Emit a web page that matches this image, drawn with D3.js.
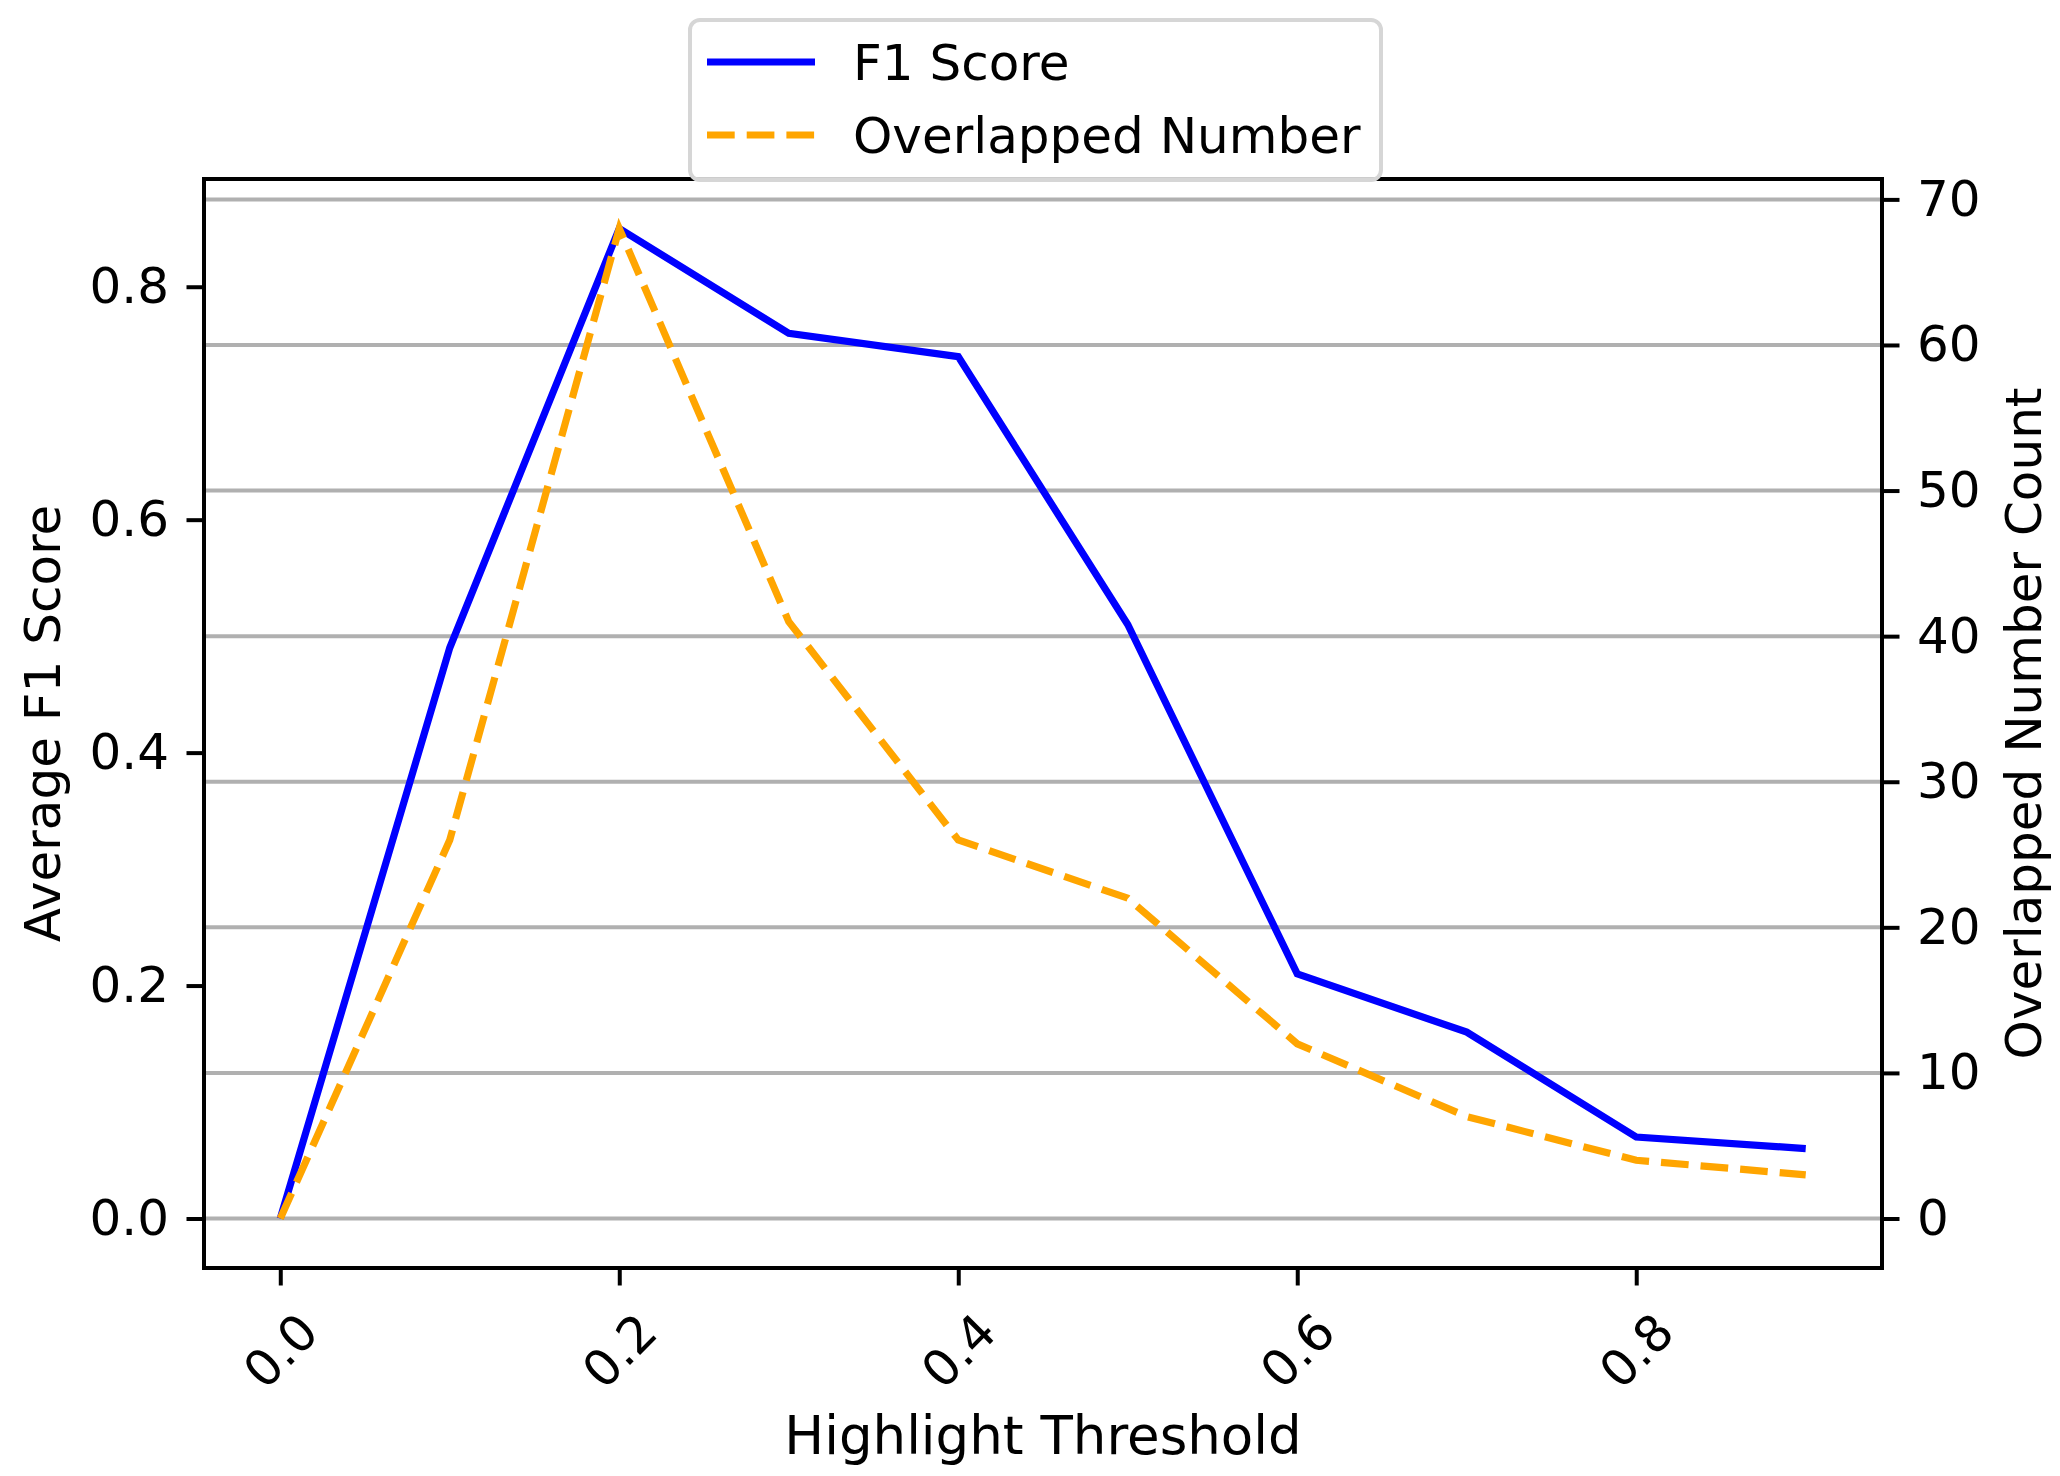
<!DOCTYPE html>
<html>
<head>
<meta charset="utf-8">
<script src="https://cdn.jsdelivr.net/npm/d3@7"></script>
<style>
body { margin: 0; background: #fff; }
text { font-family: "DejaVu Sans", sans-serif; fill: #000; }
</style>
</head>
<body>
<svg id="chart"></svg>
<script>
var thresholds = [0.0, 0.1, 0.2, 0.3, 0.4, 0.5, 0.6, 0.7, 0.8, 0.9];
var f1Scores = [0.0, 0.49, 0.85, 0.76, 0.74, 0.51, 0.21, 0.16, 0.07, 0.06];
var overlapCounts = [0, 26, 68, 41, 26, 22, 12, 7, 4, 3];
var xTicks = [0.0, 0.2, 0.4, 0.6, 0.8];
var leftTicks = [0.0, 0.2, 0.4, 0.6, 0.8];
var rightTicks = [0, 10, 20, 30, 40, 50, 60, 70];
var seriesNames = ['F1 Score', 'Overlapped Number'];

var W = 2060, H = 1476;
var m = {left: 204, right: 178, top: 179, bottom: 208};
var fs = 50, lw = 7.2, spw = 4, tl = 17.5;
var dash = '27.7,12';

var svg = d3.select('#chart').attr('width', W).attr('height', H);

// matplotlib-like 5% margins
var pad = function(lo, hi) { var d = (hi - lo) * 0.05; return [lo - d, hi + d]; };
var x = d3.scaleLinear().domain(pad(d3.min(thresholds), d3.max(thresholds))).range([m.left, W - m.right]);
var yl = d3.scaleLinear().domain(pad(0, d3.max(f1Scores))).range([H - m.bottom, m.top]);
var yr = d3.scaleLinear().domain(pad(0, d3.max(overlapCounts))).range([H - m.bottom, m.top]);

// grid from right axis
svg.append('g').selectAll('line').data(rightTicks).enter().append('line')
    .attr('x1', m.left).attr('x2', W - m.right)
    .attr('y1', function(d) { return yr(d); }).attr('y2', function(d) { return yr(d); })
    .style('stroke', '#b0b0b0').style('stroke-width', spw);

var pts = thresholds.map(function(t, i) { return {x: t, f1: f1Scores[i], n: overlapCounts[i]}; });

svg.append('path').datum(pts)
    .attr('d', d3.line().x(function(d) { return x(d.x); }).y(function(d) { return yl(d.f1); }))
    .style('fill', 'none').style('stroke', '#0000ff').style('stroke-width', lw);

svg.append('path').datum(pts)
    .attr('d', d3.line().x(function(d) { return x(d.x); }).y(function(d) { return yr(d.n); }))
    .style('fill', 'none').style('stroke', '#ffa500').style('stroke-width', lw)
    .style('stroke-dasharray', dash);

// spines
svg.append('rect').attr('x', m.left).attr('y', m.top)
    .attr('width', W - m.left - m.right).attr('height', H - m.top - m.bottom)
    .style('fill', 'none').style('stroke', '#000').style('stroke-width', spw);

var styleAxis = function(g) {
    g.select('.domain').remove();
    g.selectAll('.tick line').style('stroke', '#000').style('stroke-width', spw);
    g.selectAll('.tick text').style('font-family', '"DejaVu Sans", sans-serif').style('font-size', fs + 'px').style('fill', '#000');
};

svg.append('g').attr('transform', 'translate(' + m.left + ',0)')
    .call(d3.axisLeft(yl).tickValues(leftTicks).tickFormat(d3.format('.1f')).tickSize(tl).tickPadding(tl))
    .call(styleAxis);

svg.append('g').attr('transform', 'translate(' + (W - m.right) + ',0)')
    .call(d3.axisRight(yr).tickValues(rightTicks).tickFormat(d3.format('d')).tickSize(tl).tickPadding(tl))
    .call(styleAxis);

var gx = svg.append('g').attr('transform', 'translate(0,' + (H - m.bottom) + ')')
    .call(d3.axisBottom(x).tickValues(xTicks).tickFormat(d3.format('.1f')).tickSize(tl))
    .call(styleAxis);
gx.selectAll('.tick text')
    .attr('y', 0).attr('dy', null)
    .attr('transform', 'translate(0,83) rotate(-45)')
    .style('text-anchor', 'middle').style('dominant-baseline', 'central');

// axis titles
svg.append('text').attr('x', (m.left + W - m.right) / 2).attr('y', 1454)
    .style('text-anchor', 'middle').style('font-size', '53px').text('Highlight Threshold');
svg.append('text').attr('transform', 'translate(42,' + ((m.top + H - m.bottom) / 2) + ') rotate(-90)')
    .attr('dy', '0.35em').style('text-anchor', 'middle').style('font-size', fs + 'px').text('Average F1 Score');
svg.append('text').attr('transform', 'translate(2023,' + ((m.top + H - m.bottom) / 2) + ') rotate(-90)')
    .attr('dy', '0.35em').style('text-anchor', 'middle').style('font-size', fs + 'px').text('Overlapped Number Count');

// legend
var lg = svg.append('g').attr('transform', 'translate(690,20)');
lg.append('rect').attr('width', 691).attr('height', 160).attr('rx', 10).attr('ry', 10)
    .style('fill', '#fff').style('fill-opacity', 0.8).style('stroke', '#d6d6d6').style('stroke-width', spw);
var items = lg.selectAll('.item').data(seriesNames).enter().append('g')
    .attr('transform', function(d, i) { return 'translate(0,' + (42 + i * 73) + ')'; });
items.append('line').attr('x1', 17).attr('x2', 125).attr('y1', 0).attr('y2', 0)
    .style('stroke', function(d, i) { return i === 0 ? '#0000ff' : '#ffa500'; })
    .style('stroke-width', lw)
    .style('stroke-dasharray', function(d, i) { return i === 0 ? null : dash; });
items.append('text').attr('x', 163).attr('y', 0).attr('dy', '0.36em')
    .style('font-size', fs + 'px').text(function(d) { return d; });
</script>
</body>
</html>
